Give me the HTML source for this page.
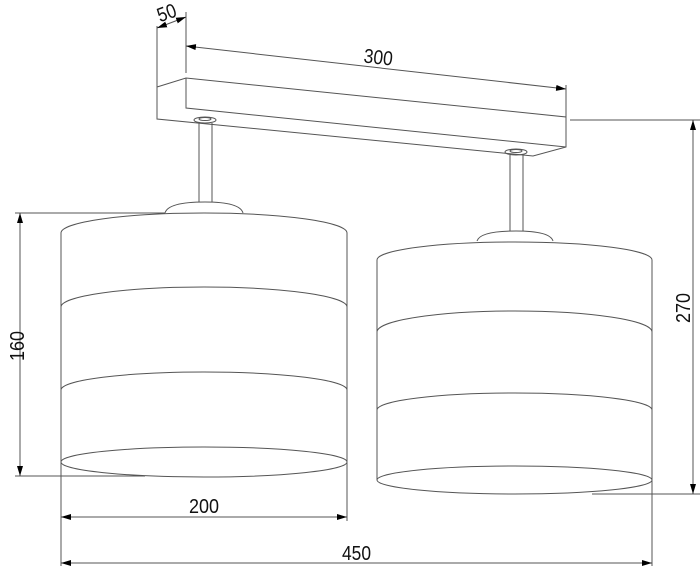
<!DOCTYPE html>
<html><head><meta charset="utf-8"><style>
html,body{margin:0;padding:0;background:#fff;}
svg{display:block}
text{font-family:"Liberation Sans Narrow","Liberation Sans",sans-serif;font-size:20px;fill:#111;}
</style></head><body>
<svg width="700" height="570" viewBox="0 0 700 570" xmlns="http://www.w3.org/2000/svg">
<defs>
<marker id="a" viewBox="0 0 10 6" refX="10" refY="3" markerWidth="10" markerHeight="6" orient="auto-start-reverse" markerUnits="userSpaceOnUse"><path d="M0,0 L10,3 L0,6 z" fill="#000"/></marker>
</defs>
<g fill="none" stroke="#555" stroke-width="1">
<path d="M157,87 L186,78 L566,117 L566,147 L533,156 L157,119 Z"/>
<path d="M186,78 L186,108 L566,147"/>
<line x1="157" y1="26" x2="157" y2="87"/>
<line x1="186" y1="12" x2="186" y2="73"/>
<line x1="566" y1="85" x2="566" y2="117"/>
<ellipse cx="205" cy="120" rx="11" ry="3"/>
<ellipse cx="205" cy="119" rx="6" ry="1.5"/>
<path d="M199,123 V202 M212,123 V202"/>
<path d="M165,213 Q168,202 205,202 Q240,202 243,213"/>
<ellipse cx="516" cy="152" rx="11" ry="3"/>
<ellipse cx="516" cy="151" rx="6" ry="1.5"/>
<path d="M510,155 V231 M523,155 V231"/>
<path d="M477,241 Q480,231 516,231 Q550,231 553,241"/>
<path d="M61,476 V233 A143,20 0 0 1 347,233 V476"/>
<path d="M61,307 A143,20 0 0 1 347,307"/>
<path d="M61,390 A143,18 0 0 1 347,390"/>
<ellipse cx="204" cy="462" rx="143" ry="15"/>
<path d="M377,480 V260 A137.5,18 0 0 1 652,260 V480"/>
<path d="M377,332 A137.5,21 0 0 1 652,332"/>
<path d="M377,410 A137.5,17 0 0 1 652,410"/>
<ellipse cx="514.5" cy="480" rx="137.5" ry="14"/>
<line x1="15" y1="213" x2="165" y2="213"/>
<line x1="15" y1="476" x2="145" y2="476"/>
<line x1="570" y1="120" x2="700" y2="120"/>
<line x1="592" y1="494" x2="700" y2="494"/>
<line x1="61" y1="476" x2="61" y2="566"/>
<line x1="347" y1="476" x2="347" y2="521"/>
<line x1="652" y1="480" x2="652" y2="566"/>
</g>
<g stroke="#555" stroke-width="1" fill="none">
<line x1="157" y1="28" x2="186" y2="17" marker-start="url(#a)" marker-end="url(#a)"/>
<line x1="186" y1="46" x2="566" y2="89" marker-start="url(#a)" marker-end="url(#a)"/>
<line x1="20" y1="213" x2="20" y2="476" marker-start="url(#a)" marker-end="url(#a)"/>
<line x1="693" y1="120" x2="693" y2="494" marker-start="url(#a)" marker-end="url(#a)"/>
<line x1="61" y1="517" x2="347" y2="517" marker-start="url(#a)" marker-end="url(#a)"/>
<line x1="61" y1="563" x2="652" y2="563" marker-start="url(#a)" marker-end="url(#a)"/>
</g>
<text x="157" y="19" textLength="19" lengthAdjust="spacingAndGlyphs" transform="rotate(-20 168 12)">50</text>
<text x="364" y="64" textLength="29" lengthAdjust="spacingAndGlyphs" transform="rotate(6.5 378 56)">300</text>
<text x="2" y="353" textLength="30" lengthAdjust="spacingAndGlyphs" transform="rotate(-90 17 346)">160</text>
<text x="668" y="315" textLength="30" lengthAdjust="spacingAndGlyphs" transform="rotate(-90 683 308)">270</text>
<text x="189" y="513" textLength="30" lengthAdjust="spacingAndGlyphs">200</text>
<text x="342" y="560" textLength="29" lengthAdjust="spacingAndGlyphs">450</text>
</svg>
</body></html>
